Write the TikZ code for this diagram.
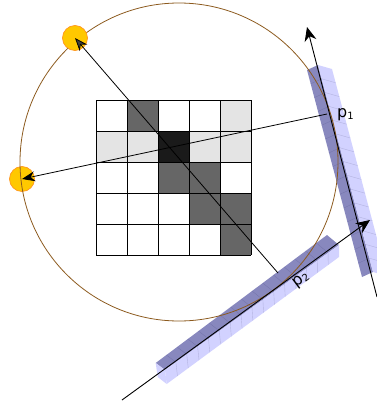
\documentclass[tikz,border=0pt]{standalone}
\usepackage{fontspec}
\setmainfont{DejaVu Sans}
\usetikzlibrary{arrows.meta,calc}

\definecolor{orbitcolor}{RGB}{140, 90, 30}
\definecolor{sourcefill}{RGB}{255, 200, 0}
\definecolor{sourceedge}{RGB}{255, 150, 30}
\definecolor{topface}{RGB}{136, 136, 190}
\definecolor{frontface}{RGB}{210, 210, 255}
\definecolor{tophatch}{RGB}{115, 115, 170}
\definecolor{fronthatch}{RGB}{180, 180, 225}
\definecolor{cellmid}{RGB}{102, 102, 102}
\definecolor{celldark}{RGB}{26, 26, 26}
\definecolor{celllight}{RGB}{228, 228, 228}

\tikzset{
    axisline/.style={black, line width=0.9pt, -{Stealth[length=14pt, width=12pt]}},
    rayline/.style={black, line width=0.8pt, -{Stealth[length=13pt, width=10pt]}},
    sourcedot/.style={fill=sourcefill, draw=sourceedge, line width=0.7pt},
    sublabel/.style={font=\fontsize{16}{16}\selectfont, inner sep=0pt}
}

\newcommand{\lowsub}[1]{\raisebox{-2pt}{\fontsize{10}{10}\selectfont #1}}

\begin{document}
\begin{tikzpicture}[x=1pt, y=-1pt]
    \useasboundingbox (0,0) rectangle (377,402);

    % ==========================================
    % --- Detector bars ---
    % ==========================================
    \begin{scope}
        \clip (0,0) rectangle (377,402);

        % Bar next to p1
        \fill[topface] (307,70) -- (318,65) -- (373,272) -- (362,277) -- cycle;
        \fill[frontface] (318,65) -- (332,69) -- (387,276) -- (373,272) -- cycle;
        \foreach \i in {1,...,14} {
            \draw[tophatch, line width=0.3pt] ($(307,70)!\i/15!(362,277)$) -- ($(318,65)!\i/15!(373,272)$);
            \draw[fronthatch, line width=0.4pt] ($(318,65)!\i/15!(373,272)$) -- ($(332,69)!\i/15!(387,276)$);
        }

        % Bar next to p2
        \fill[topface] (155.7,363) -- (327,235) -- (339,245) -- (165,370) -- cycle;
        \fill[frontface] (165,370) -- (339,245) -- (339,257) -- (166.7,384) -- cycle;
        \fill[frontface] (155.7,363) -- (165,370) -- (166.7,384) -- (157.7,377) -- cycle;
        \foreach \i in {1,...,15} {
            \draw[tophatch, line width=0.3pt] ($(155.7,363)!\i/16!(327,235)$) -- ($(165,370)!\i/16!(339,245)$);
            \draw[fronthatch, line width=0.4pt] ($(165,370)!\i/16!(339,245)$) -- ($(166.7,384)!\i/16!(339,257)$);
        }
    \end{scope}

    % ==========================================
    % --- Grid of cells ---
    % ==========================================
    \foreach \c/\r in {1/0, 2/2, 3/2, 3/3, 4/3, 4/4}
        \fill[cellmid] (96+31*\c,100+31*\r) rectangle ++(31,31);
    \foreach \c/\r in {4/0, 0/1, 1/1, 3/1, 4/1}
        \fill[celllight] (96+31*\c,100+31*\r) rectangle ++(31,31);
    \fill[celldark] (96+31*2,100+31*1) rectangle ++(31,31);
    \foreach \i in {0,...,5} {
        \draw[black, line width=0.9pt] (96+31*\i,100) -- (96+31*\i,255);
        \draw[black, line width=0.9pt] (96,100+31*\i) -- (251,100+31*\i);
    }

    % Sources and orbit
    \node[sourcedot, circle, minimum size=25pt, inner sep=0pt] (sourceB) at (22,179) {};
    \draw[orbitcolor, line width=0.8pt] (179,162) circle (159);
    \node[sourcedot, circle, minimum size=25pt, inner sep=0pt] (sourceA) at (75,38) {};

    % Axes of the two bars
    \coordinate (axisAstart) at (377,297);
    \coordinate (axisAend) at (307,27);
    \coordinate (axisBstart) at (122,400);
    \coordinate (axisBend) at (370,220);
    \draw[axisline] (axisAstart) -- (axisAend);
    \draw[axisline] (axisBstart) -- (axisBend);

    % Rays back to the sources
    \coordinate (rayAstart) at (278,273);
    \coordinate (rayBstart) at (327,114);
    \draw[black, line width=0.8pt, -{Stealth[length=13pt, width=10pt, fill=black!75]}] (rayAstart) -- (sourceA.center);
    \draw[rayline] (rayBstart) -- (sourceB.center);

    % Labels
    \node[sublabel, anchor=west] (labelA) at (337,115) {p\lowsub{1}};
    \node[sublabel, rotate=37] (labelB) at (301,280) {p\lowsub{2}};

\end{tikzpicture}
\end{document}
